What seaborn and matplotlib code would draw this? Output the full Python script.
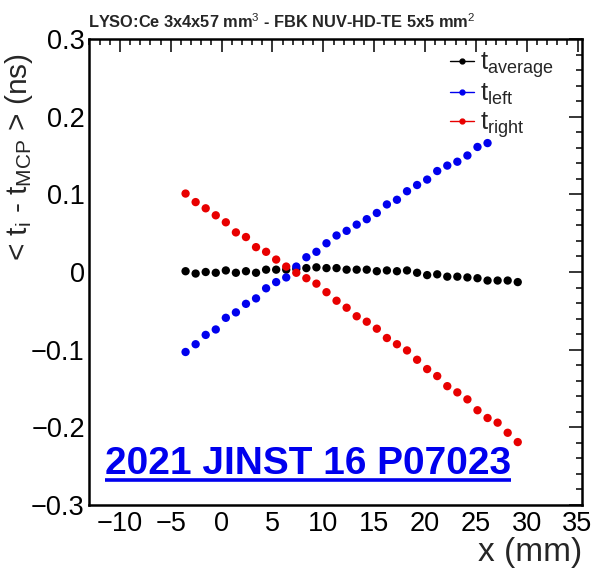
import matplotlib
matplotlib.use("Agg")
import matplotlib.pyplot as plt
from matplotlib.lines import Line2D
from matplotlib.ticker import MultipleLocator, FuncFormatter
import numpy as np
import pandas as pd
import seaborn as sns

# Scan positions along the crystal (mm)
x_pos = [-3.55, -2.56, -1.57, -0.58, 0.41, 1.40, 2.39, 3.38, 4.37, 5.36,
         6.35, 7.34, 8.33, 9.32, 10.31, 11.30, 12.29, 13.28, 14.27, 15.26,
         16.25, 17.24, 18.23, 19.22, 20.21, 21.20, 22.19, 23.18, 24.17, 25.16,
         26.15, 27.14, 28.13, 29.12]

# Mean time difference with respect to the MCP reference (ns)
t_average = [0.001, -0.002, 0.000, -0.001, 0.002, -0.001, 0.001, -0.001, 0.003, 0.003,
             0.003, 0.004, 0.005, 0.006, 0.005, 0.005, 0.003, 0.003, 0.003, 0.001,
             0.002, 0.001, 0.002, -0.001, -0.004, -0.003, -0.006, -0.006, -0.007, -0.008,
             -0.011, -0.011, -0.011, -0.013]
t_left = [-0.103, -0.093, -0.081, -0.074, -0.059, -0.052, -0.041, -0.034, -0.021, -0.013,
          -0.007, 0.007, 0.019, 0.026, 0.037, 0.047, 0.053, 0.061, 0.068, 0.076,
          0.087, 0.093, 0.104, 0.112, 0.119, 0.130, 0.137, 0.142, 0.150, 0.161,
          0.166]
t_right = [0.101, 0.090, 0.082, 0.073, 0.064, 0.051, 0.045, 0.032, 0.026, 0.016,
           0.007, -0.001, -0.008, -0.015, -0.026, -0.037, -0.046, -0.057, -0.064, -0.073,
           -0.085, -0.093, -0.101, -0.113, -0.125, -0.134, -0.147, -0.155, -0.164, -0.178,
           -0.188, -0.194, -0.207, -0.219]

series_names = ["average", "left", "right"]
series_colors = {"average": "#000000", "left": "#0000ee", "right": "#e80000"}

frames = []
for name, vals in zip(series_names, [t_average, t_left, t_right]):
    frames.append(pd.DataFrame({"x": x_pos[:len(vals)], "t": vals, "series": name}))
df = pd.concat(frames, ignore_index=True)

sns.set_style("white")
plt.rcParams["font.family"] = ["Liberation Sans", "DejaVu Sans"]
plt.rcParams["mathtext.fontset"] = "custom"
plt.rcParams["mathtext.rm"] = "Liberation Sans"
plt.rcParams["mathtext.it"] = "Liberation Sans:italic"
plt.rcParams["mathtext.bf"] = "Liberation Sans:bold"

fig = plt.figure(figsize=(5.92, 5.71), dpi=100)
ax = fig.add_axes([0.1503, 0.1156, 0.8328, 0.8161])

sns.scatterplot(data=df, x="x", y="t", hue="series", palette=series_colors,
                hue_order=series_names, s=36, edgecolor="none", linewidth=0,
                legend=False, ax=ax, zorder=3)

ax.set_xlim(-13.05, 35.44)
ax.set_ylim(-0.3, 0.3)
ax.xaxis.set_major_locator(MultipleLocator(5))
ax.xaxis.set_minor_locator(MultipleLocator(1))
ax.yaxis.set_major_locator(MultipleLocator(0.1))
ax.yaxis.set_minor_locator(MultipleLocator(0.02))


def y_fmt(v, _):
    if abs(v) < 1e-9:
        return "0"
    return ("%.1f" % v).replace("-", "\u2212")


ax.yaxis.set_major_formatter(FuncFormatter(y_fmt))
ax.tick_params(which="both", direction="in", top=True, right=True,
               labelsize=19.5, width=1.1, colors="black")
ax.tick_params(which="major", length=9.5, pad=3)
ax.tick_params(axis="x", which="major", pad=4)
ax.tick_params(which="minor", length=4.5)
for sp in ax.spines.values():
    sp.set_linewidth(1.8)
    sp.set_color("black")

ax.set_ylabel("")
ax.set_xlabel("x (mm)", fontsize=24, loc="right", labelpad=0)

fig.text(19 / 592, 1 - 157 / 571,
         r"< t$_{\mathrm{i}}$ - t$_{\mathrm{MCP}}$ > (ns)",
         rotation=90, ha="center", va="center", fontsize=21.5)

fig.text(88 / 592, 1 - 28 / 571,
         r"LYSO:Ce 3x4x57 mm$^{\mathrm{3}}$ - FBK NUV-HD-TE 5x5 mm$^{\mathrm{2}}$",
         ha="left", va="baseline", fontsize=11.8, fontweight="bold")

handles = [Line2D([], [], color=series_colors[n], marker="o", markersize=3.5, lw=1.0)
           for n in series_names]
labels = [r"t$_{\mathrm{average}}$", r"t$_{\mathrm{left}}$", r"t$_{\mathrm{right}}$"]
ax.legend(handles, labels, loc="upper left", bbox_to_anchor=(450 / 592, 1 - 50 / 571),
          bbox_transform=fig.transFigure, frameon=False, fontsize=18.5,
          handlelength=0.95, handletextpad=0.2, labelspacing=0.1, borderpad=0,
          borderaxespad=0)

ref = fig.text(105 / 592, 1 - 474 / 571, "2021 JINST 16 P07023", ha="left",
               va="baseline", fontsize=28, fontweight="bold", color="#0000ee")
fig.canvas.draw()
bb = ref.get_window_extent().transformed(fig.transFigure.inverted())
fig.add_artist(Line2D([bb.x0, bb.x1], [1 - 480 / 571] * 2, transform=fig.transFigure,
                      color="#0000ee", lw=2.6, solid_capstyle="butt"))

fig.savefig("out.png", dpi=100, facecolor="white")
